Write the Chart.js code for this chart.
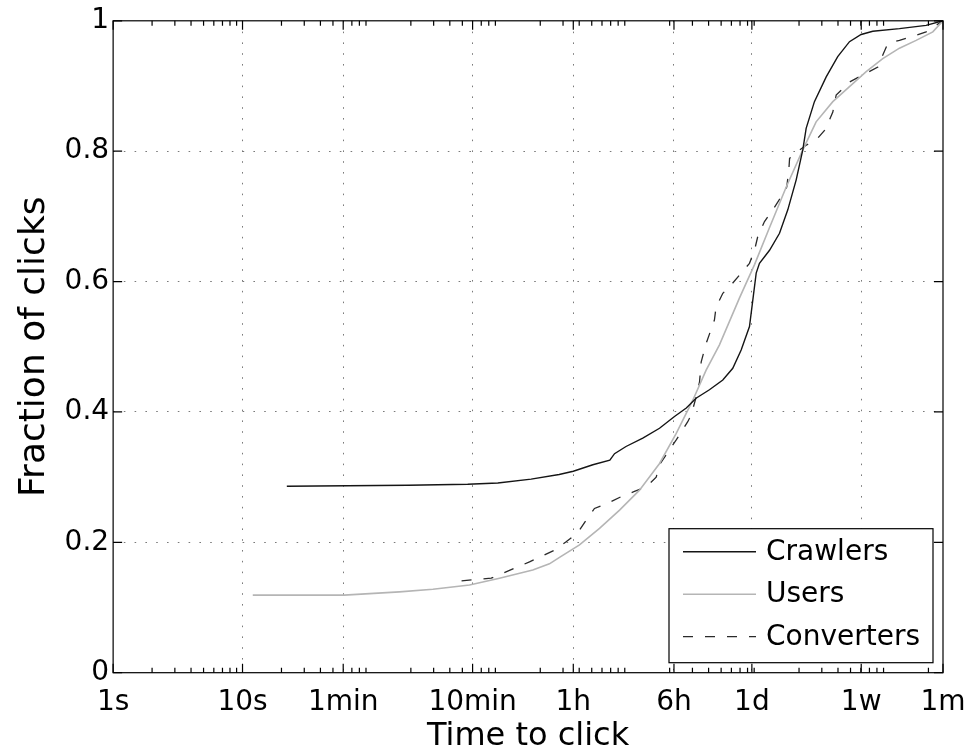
<!DOCTYPE html>
<html><head><meta charset="utf-8">
<script src="https://cdn.jsdelivr.net/npm/chart.js@4/dist/chart.umd.min.js"></script>
<style>html,body{margin:0;padding:0;background:#fff}#wrap{width:972px;height:753px}</style>
</head><body><div id="wrap"><canvas id="c" width="972" height="753"></canvas></div>
<script>
// ---- data (time to click in seconds, fraction of clicks) ----
const seriesNames = ['Crawlers', 'Users', 'Converters'];
const crawlersT = [22, 190, 550, 940, 1700, 2800, 3600, 5100, 6900, 7500, 9200, 12400, 16700, 21800, 26900, 32000, 40600, 51500, 61500, 71400, 82800, 87900, 93300, 98900, 118300, 141300, 163700, 190100, 213800, 227000, 263000, 324300, 398100, 490900, 604000, 743000, 1194000, 1919000, 2592000];
const crawlersF = [0.286, 0.2875, 0.289, 0.291, 0.297, 0.304, 0.309, 0.319, 0.326, 0.336, 0.347, 0.360, 0.375, 0.393, 0.406, 0.421, 0.434, 0.449, 0.467, 0.495, 0.531, 0.572, 0.613, 0.628, 0.648, 0.674, 0.710, 0.756, 0.802, 0.835, 0.876, 0.914, 0.945, 0.968, 0.979, 0.984, 0.988, 0.993, 1.0];
const usersT = [12, 61, 163, 296, 568, 968, 1750, 2355, 2818, 4020, 5741, 8204, 11695, 16711, 22491, 30200, 38282, 48529, 69343, 90573, 118304, 159221, 213796, 271019, 364754, 490908, 660693, 887156, 1193988, 1606963, 2162719, 2592000];
const usersF = [0.119, 0.119, 0.124, 0.128, 0.1345, 0.145, 0.1575, 0.167, 0.177, 0.196, 0.2215, 0.2495, 0.280, 0.321, 0.367, 0.418, 0.464, 0.503, 0.575, 0.626, 0.683, 0.745, 0.802, 0.845, 0.876, 0.899, 0.922, 0.942, 0.958, 0.970, 0.983, 1.0];
const convertersT = [493, 836, 1652, 2576, 3170, 3899, 4529, 5248, 6653, 8433, 10691, 13183, 15740, 16711, 19953, 22491, 27606, 29309, 32063, 34041, 35075, 38282, 44361, 45709, 51523, 59841, 71450, 82794, 90573, 95940, 108143, 125314, 145546, 160694, 166725, 169044, 202768, 226986, 279254, 314775, 343558, 364754, 387258, 490908, 622300, 812831, 862979, 970510, 1193988, 1559590, 1918645, 2592000];
const convertersF = [0.141, 0.145, 0.170, 0.188, 0.201, 0.2147, 0.234, 0.252, 0.260, 0.270, 0.278, 0.285, 0.300, 0.319, 0.342, 0.357, 0.385, 0.395, 0.423, 0.446, 0.477, 0.505, 0.541, 0.561, 0.582, 0.595, 0.613, 0.628, 0.648, 0.669, 0.692, 0.710, 0.730, 0.745, 0.771, 0.789, 0.802, 0.809, 0.820, 0.832, 0.848, 0.860, 0.886, 0.906, 0.917, 0.929, 0.942, 0.965, 0.970, 0.977, 0.983, 1.0];
const xTickValues = [1, 10, 60, 600, 3600, 21600, 86400, 604800, 2592000];
const xTickLabels = ['1s', '10s', '1min', '10min', '1h', '6h', '1d', '1w', '1m'];
const yTickValues = [0, 0.2, 0.4, 0.6, 0.8, 1];
const yTickLabels = ['0', '0.2', '0.4', '0.6', '0.8', '1'];
const xTitle = 'Time to click';
const yTitle = 'Fraction of clicks';

function pts(t, f) { return t.map((v, i) => ({x: v, y: f[i]})); }

const FONT = "'DejaVu Sans', 'Liberation Sans', sans-serif";
Chart.defaults.font.family = FONT;
Chart.defaults.color = '#000';

const X_MIN = xTickValues[0], X_MAX = xTickValues[xTickValues.length - 1];

const boxPlugin = {
  id: 'boxTicks',
  afterDatasetsDraw(chart) {
    const {ctx, chartArea: a} = chart;
    const xs = chart.scales.x, ys = chart.scales.y;
    ctx.save();
    ctx.strokeStyle = '#000';
    ctx.lineWidth = 1.2;
    ctx.setLineDash([]);
    ctx.strokeRect(a.left, a.top, a.right - a.left, a.bottom - a.top);
    ctx.beginPath();
    // minor x ticks
    for (let e = 0; e <= 6; e++) {
      for (let k = 2; k <= 9; k++) {
        const v = k * Math.pow(10, e);
        if (v <= X_MIN || v >= X_MAX) continue;
        const px = xs.getPixelForValue(v);
        ctx.moveTo(px, a.bottom); ctx.lineTo(px, a.bottom - 5);
        ctx.moveTo(px, a.top); ctx.lineTo(px, a.top + 5);
      }
    }
    xTickValues.forEach(v => {
      const px = xs.getPixelForValue(v);
      ctx.moveTo(px, a.bottom); ctx.lineTo(px, a.bottom - 9);
      ctx.moveTo(px, a.top); ctx.lineTo(px, a.top + 9);
    });
    yTickValues.forEach(v => {
      const py = ys.getPixelForValue(v);
      ctx.moveTo(a.left, py); ctx.lineTo(a.left + 9, py);
      ctx.moveTo(a.right, py); ctx.lineTo(a.right - 9, py);
    });
    ctx.stroke();
    ctx.restore();
  },
  afterDraw(chart) {
    const {ctx, chartArea: a} = chart;
    const bx1 = a.right - 10, by1 = a.bottom - 10;
    const bx0 = bx1 - 264, by0 = by1 - 134;
    ctx.save();
    ctx.fillStyle = '#fff';
    ctx.fillRect(bx0, by0, bx1 - bx0, by1 - by0);
    ctx.strokeStyle = '#000';
    ctx.lineWidth = 1.2;
    ctx.strokeRect(bx0, by0, bx1 - bx0, by1 - by0);
    ctx.font = "28px " + FONT;
    ctx.textBaseline = 'middle';
    ctx.textAlign = 'left';
    chart.data.datasets.forEach((ds, i) => {
      const y = by0 + 23 + i * 42.5;
      ctx.beginPath();
      ctx.strokeStyle = ds.borderColor;
      ctx.lineWidth = ds.borderWidth;
      ctx.setLineDash(ds.borderDash || []);
      ctx.moveTo(bx0 + 14, y); ctx.lineTo(bx0 + 87, y);
      ctx.stroke();
      ctx.setLineDash([]);
      ctx.fillStyle = '#000';
      ctx.fillText(ds.label, bx0 + 97, y + 1);
    });
    ctx.restore();
  }
};

new Chart(document.getElementById('c'), {
  type: 'scatter',
  data: {
    datasets: [
      {label: seriesNames[0], data: pts(crawlersT, crawlersF), borderColor: '#151515', borderWidth: 1.4, showLine: true, pointRadius: 0, tension: 0},
      {label: seriesNames[1], data: pts(usersT, usersF), borderColor: '#b5b5b5', borderWidth: 1.6, showLine: true, pointRadius: 0, tension: 0},
      {label: seriesNames[2], data: pts(convertersT, convertersF), borderColor: '#2a2a2a', borderWidth: 1.3, borderDash: [10, 12], showLine: true, pointRadius: 0, tension: 0}
    ]
  },
  options: {
    responsive: false,
    animation: false,
    devicePixelRatio: 1,
    layout: {padding: {left: 10.8, right: 29, top: 19.4, bottom: 0}},
    plugins: {legend: {display: false}, tooltip: {enabled: false}},
    scales: {
      x: {
        type: 'logarithmic',
        min: X_MIN, max: X_MAX,
        afterBuildTicks(scale) { scale.ticks = xTickValues.map(v => ({value: v})); },
        afterFit(scale) { scale.paddingLeft = 0; scale.paddingRight = 0; scale.height = 80.3; },
        ticks: {
          autoSkip: false, maxRotation: 0, minRotation: 0, padding: 18.6,
          font: {size: 28, lineHeight: 0.8}, color: '#000',
          callback: (v, i) => xTickLabels[i]
        },
        grid: {
          drawTicks: false,
          lineWidth: 1,
          color: c => (c.tick && (c.tick.value <= X_MIN || c.tick.value >= X_MAX)) ? 'rgba(0,0,0,0)' : '#7a7a7a'
        },
        border: {display: false, dash: [1.6, 9.2]},
        title: {display: true, text: xTitle, font: {size: 32, lineHeight: 1.05}, color: '#000', padding: {top: 0, bottom: 0}}
      },
      y: {
        min: 0, max: 1,
        afterBuildTicks(scale) { scale.ticks = yTickValues.map(v => ({value: v})); },
        ticks: {
          padding: 4, font: {size: 28, lineHeight: 1.2}, color: '#000',
          callback: (v, i) => yTickLabels[i]
        },
        grid: {
          drawTicks: false,
          lineWidth: 1,
          color: c => (c.tick && (c.tick.value < 0.01 || c.tick.value > 0.99)) ? 'rgba(0,0,0,0)' : '#7a7a7a'
        },
        border: {display: false, dash: [1.6, 9.2]},
        title: {display: true, text: yTitle, font: {size: 36, lineHeight: 1.2}, color: '#000', padding: {top: 2.6, bottom: 4}}
      }
    }
  },
  plugins: [boxPlugin]
});
</script>
</body></html>
